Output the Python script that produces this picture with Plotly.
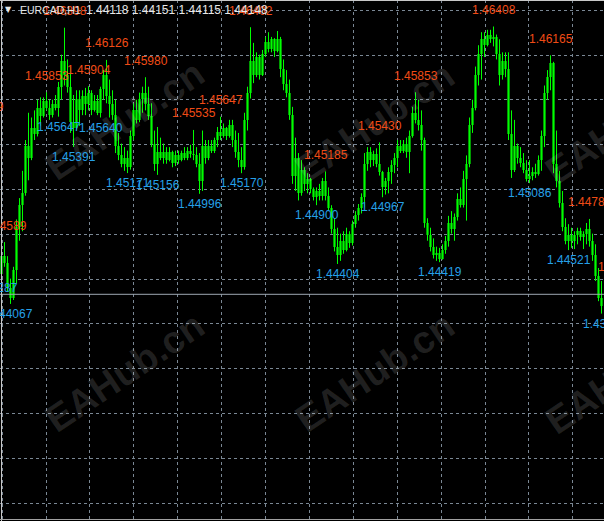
import plotly.graph_objects as go

# ---------------- data (EURCAD, H1) ----------------
symbol = "EURCAD,H1"
header_ohlc = [1.44118, 1.44151, 1.44115, 1.44148]
bid_price = 1.44148

opens = [
    1.4432, 1.4447, 1.4441, 1.4420, 1.4412, 1.4435, 1.4472, 1.4490, 1.4500, 1.4540,
    1.4530, 1.4555, 1.4550, 1.4572, 1.4565, 1.4578, 1.4572, 1.4566, 1.4575, 1.4572,
    1.4590, 1.4612, 1.4600, 1.4590, 1.4560, 1.4555, 1.4580, 1.4570, 1.4582, 1.4575,
    1.4585, 1.4570, 1.4578, 1.4568, 1.4588, 1.4600, 1.4582, 1.4575, 1.4566, 1.4540,
    1.4532, 1.4525, 1.4530, 1.4522, 1.4548, 1.4570, 1.4562, 1.4580, 1.4585, 1.4575,
    1.4565, 1.4542, 1.4525, 1.4535, 1.4530, 1.4535, 1.4528, 1.4535, 1.4526, 1.4532,
    1.4528, 1.4534, 1.4530, 1.4536, 1.4533, 1.4532, 1.4525, 1.4510, 1.4540, 1.4530,
    1.4540, 1.4536, 1.4545, 1.4552, 1.4548, 1.4555, 1.4548, 1.4558, 1.4545, 1.4535,
    1.4528, 1.4522, 1.4562, 1.4585, 1.4612, 1.4600, 1.4615, 1.4600, 1.4618, 1.4628,
    1.4622, 1.4630, 1.4620, 1.4630, 1.4605, 1.4592, 1.4585, 1.4566, 1.4515, 1.4530,
    1.4500, 1.4520, 1.4508, 1.4512, 1.4504, 1.4497, 1.4502, 1.4498, 1.4510, 1.4498,
    1.4488, 1.4470, 1.4455, 1.4448, 1.4460, 1.4452, 1.4466, 1.4458, 1.4474, 1.4482,
    1.4488, 1.4497, 1.4525, 1.4535, 1.4528, 1.4533, 1.4525, 1.4518, 1.4505, 1.4510,
    1.4518, 1.4524, 1.4530, 1.4540, 1.4536, 1.4542, 1.4535, 1.4548, 1.4568, 1.4562,
    1.4558, 1.4545, 1.4475, 1.4465, 1.4455, 1.4448, 1.4450, 1.4445, 1.4452, 1.4460,
    1.4475, 1.4470, 1.4480, 1.4495, 1.4490, 1.4512, 1.4525, 1.4558, 1.4572, 1.4600,
    1.4618, 1.4630, 1.4625, 1.4634, 1.4630, 1.4632, 1.4618, 1.4600, 1.4612, 1.4605,
    1.4550, 1.4520, 1.4540, 1.4530, 1.4526, 1.4520, 1.4512, 1.4515, 1.4518, 1.4516,
    1.4528, 1.4548, 1.4585, 1.4598, 1.4610, 1.4525, 1.4510, 1.4492, 1.4472, 1.4460,
    1.4465, 1.4460, 1.4465, 1.4468, 1.4463, 1.4466, 1.4470, 1.4460, 1.4448, 1.4430,
    1.4412,
]
highs = [
    1.4451, 1.44589, 1.4447, 1.4428, 1.4438, 1.4478, 1.4496, 1.4519, 1.4545, 1.4568,
    1.4564, 1.4570, 1.4579, 1.4581, 1.4581, 1.45853, 1.4579, 1.4579, 1.4583, 1.4594,
    1.4617, 1.46398, 1.4613, 1.4607, 1.4583, 1.4587, 1.4587, 1.4587, 1.4589, 1.45904,
    1.4587, 1.4583, 1.4583, 1.4590, 1.4604, 1.46126, 1.4596, 1.4587, 1.4579, 1.4551,
    1.4542, 1.4539, 1.4536, 1.4553, 1.4576, 1.4579, 1.4585, 1.4590, 1.45980, 1.4590,
    1.4576, 1.4553, 1.4556, 1.4547, 1.4542, 1.4539, 1.4539, 1.4536, 1.4536, 1.4536,
    1.4536, 1.4539, 1.4539, 1.4541, 1.45535, 1.4539, 1.4534, 1.4553, 1.4545, 1.4545,
    1.4545, 1.4547, 1.4556, 1.45647, 1.4559, 1.4556, 1.4562, 1.4562, 1.4553, 1.4551,
    1.4539, 1.4568, 1.4590, 1.46402, 1.4627, 1.4619, 1.4617, 1.4621, 1.4632, 1.4636,
    1.4632, 1.4631, 1.4637, 1.4632, 1.4613, 1.4604, 1.4596, 1.4573, 1.4547, 1.4534,
    1.4528, 1.4522, 1.4517, 1.4513, 1.4505, 1.4505, 1.4508, 1.4513, 1.45185, 1.4505,
    1.4490, 1.4479, 1.4471, 1.4466, 1.4468, 1.4471, 1.4468, 1.4477, 1.4485, 1.4491,
    1.4500, 1.4534, 1.4539, 1.4539, 1.4536, 1.4538, 1.45430, 1.4519, 1.4513, 1.4522,
    1.4528, 1.4534, 1.4545, 1.4545, 1.4545, 1.4547, 1.4553, 1.4573, 1.45853, 1.4579,
    1.4570, 1.4547, 1.4479, 1.4471, 1.4462, 1.4455, 1.4454, 1.4457, 1.4464, 1.4481,
    1.4485, 1.4483, 1.4500, 1.4505, 1.4519, 1.4532, 1.4564, 1.4579, 1.4607, 1.4625,
    1.4636, 1.4636, 1.4638, 1.4638, 1.46408, 1.4634, 1.4630, 1.4619, 1.4619, 1.4619,
    1.4570, 1.4562, 1.4542, 1.4539, 1.4534, 1.4528, 1.4528, 1.4522, 1.4525, 1.4532,
    1.4553, 1.4591, 1.4604, 1.46165, 1.4611, 1.4553, 1.4519, 1.4502, 1.4479, 1.4474,
    1.4471, 1.4468, 1.4471, 1.4471, 1.4468, 1.4475, 1.44784, 1.4466, 1.4457, 1.4437,
    1.4426,
]
lows = [
    1.4430, 1.4438, 1.4417, 1.44067, 1.4410, 1.4424, 1.4460, 1.4468, 1.4498, 1.4511,
    1.4528, 1.4545, 1.4548, 1.4557, 1.4564, 1.4570, 1.4562, 1.4564, 1.4570, 1.45647,
    1.4579, 1.4591, 1.4585, 1.4551, 1.45391, 1.4553, 1.4557, 1.4566, 1.4566, 1.4570,
    1.4566, 1.4569, 1.4566, 1.45640, 1.4579, 1.4576, 1.4564, 1.4562, 1.4534, 1.4528,
    1.4522, 1.4519, 1.45171, 1.4520, 1.4545, 1.4559, 1.4560, 1.4568, 1.4570, 1.4562,
    1.4539, 1.4519, 1.45156, 1.4528, 1.4525, 1.4525, 1.4527, 1.4522, 1.4523, 1.4525,
    1.4527, 1.4528, 1.4528, 1.4530, 1.4528, 1.4522, 1.44996, 1.4502, 1.4525, 1.4528,
    1.4534, 1.4534, 1.4539, 1.4545, 1.4547, 1.4545, 1.4547, 1.4539, 1.4530, 1.4522,
    1.45170, 1.4520, 1.4553, 1.4580, 1.4593, 1.4598, 1.4596, 1.4599, 1.4615, 1.4619,
    1.4619, 1.4615, 1.4619, 1.4598, 1.4587, 1.4581, 1.4562, 1.4508, 1.4502, 1.4494,
    1.4498, 1.4502, 1.4500, 1.4500, 1.4494, 1.44900, 1.4494, 1.4494, 1.4494, 1.4485,
    1.4466, 1.4451, 1.44404, 1.4443, 1.4449, 1.4451, 1.4454, 1.4456, 1.4471, 1.4477,
    1.4483, 1.4488, 1.4519, 1.4522, 1.4523, 1.4522, 1.4515, 1.44967, 1.4499, 1.4500,
    1.4508, 1.4517, 1.4522, 1.4534, 1.4534, 1.4530, 1.4517, 1.4547, 1.4559, 1.4553,
    1.4536, 1.4471, 1.4460, 1.4451, 1.4445, 1.4443, 1.44419, 1.4444, 1.4449, 1.4455,
    1.4466, 1.4460, 1.4477, 1.4488, 1.4488, 1.4477, 1.4522, 1.4551, 1.4570, 1.4591,
    1.4596, 1.4615, 1.4624, 1.4627, 1.4624, 1.4613, 1.4591, 1.4596, 1.4598, 1.4545,
    1.4513, 1.4518, 1.4525, 1.4522, 1.4517, 1.4510, 1.45086, 1.4511, 1.4513, 1.4515,
    1.4519, 1.4539, 1.4579, 1.4587, 1.4517, 1.4505, 1.4488, 1.4468, 1.4457, 1.44521,
    1.4454, 1.4453, 1.4457, 1.4460, 1.4453, 1.4457, 1.4455, 1.4443, 1.4426, 1.4409,
    1.43985,
]
closes = [
    1.4447, 1.4441, 1.4420, 1.4412, 1.4435, 1.4472, 1.4490, 1.4500, 1.4540, 1.4530,
    1.4555, 1.4550, 1.4572, 1.4565, 1.4578, 1.4572, 1.4566, 1.4575, 1.4572, 1.4590,
    1.4612, 1.4600, 1.4590, 1.4560, 1.4555, 1.4580, 1.4570, 1.4582, 1.4575, 1.4585,
    1.4570, 1.4578, 1.4568, 1.4588, 1.4600, 1.4582, 1.4575, 1.4566, 1.4540, 1.4532,
    1.4525, 1.4530, 1.4522, 1.4548, 1.4570, 1.4562, 1.4580, 1.4585, 1.4575, 1.4565,
    1.4542, 1.4525, 1.4535, 1.4530, 1.4535, 1.4528, 1.4535, 1.4526, 1.4532, 1.4528,
    1.4534, 1.4530, 1.4536, 1.4533, 1.4532, 1.4525, 1.4510, 1.4540, 1.4530, 1.4540,
    1.4536, 1.4545, 1.4552, 1.4548, 1.4555, 1.4548, 1.4558, 1.4545, 1.4535, 1.4528,
    1.4522, 1.4562, 1.4585, 1.4612, 1.4600, 1.4615, 1.4600, 1.4618, 1.4628, 1.4622,
    1.4630, 1.4620, 1.4630, 1.4605, 1.4592, 1.4585, 1.4566, 1.4515, 1.4530, 1.4500,
    1.4520, 1.4508, 1.4512, 1.4504, 1.4497, 1.4502, 1.4498, 1.4510, 1.4498, 1.4488,
    1.4470, 1.4455, 1.4448, 1.4460, 1.4452, 1.4466, 1.4458, 1.4474, 1.4482, 1.4488,
    1.4497, 1.4525, 1.4535, 1.4528, 1.4533, 1.4525, 1.4518, 1.4505, 1.4510, 1.4518,
    1.4524, 1.4530, 1.4540, 1.4536, 1.4542, 1.4535, 1.4548, 1.4568, 1.4562, 1.4558,
    1.4545, 1.4475, 1.4465, 1.4455, 1.4448, 1.4450, 1.4445, 1.4452, 1.4460, 1.4475,
    1.4470, 1.4480, 1.4495, 1.4490, 1.4512, 1.4525, 1.4558, 1.4572, 1.4600, 1.4618,
    1.4630, 1.4625, 1.4634, 1.4630, 1.4632, 1.4618, 1.4600, 1.4612, 1.4605, 1.4550,
    1.4520, 1.4540, 1.4530, 1.4526, 1.4520, 1.4512, 1.4515, 1.4518, 1.4516, 1.4528,
    1.4548, 1.4585, 1.4598, 1.4610, 1.4525, 1.4510, 1.4492, 1.4472, 1.4460, 1.4465,
    1.4460, 1.4465, 1.4468, 1.4463, 1.4466, 1.4470, 1.4460, 1.4448, 1.4430, 1.4412,
    1.4405,
]

# swing-point labels (bar index, price)
high_labels = [(1, 1.44589), (15, 1.45853), (21, 1.46398), (29, 1.45904), (35, 1.46126),
               (48, 1.45980), (64, 1.45535), (73, 1.45647), (83, 1.46402), (108, 1.45185),
               (126, 1.45430), (138, 1.45853), (164, 1.46408), (183, 1.46165), (196, 1.44784)]
low_labels = [(3, 1.44067), (19, 1.45647), (24, 1.45391), (33, 1.45640), (42, 1.45171),
              (52, 1.45156), (66, 1.44996), (80, 1.45170), (105, 1.44900), (112, 1.44404),
              (127, 1.44967), (146, 1.44419), (176, 1.45086), (189, 1.44521), (200, 1.43985)]
# labels of bars just outside the visible window
edge_high_labels = [(0, 1.45589), (200, 1.44239)]
edge_low_labels = [(0, 1.44287)]

n = len(closes)
assert len(opens) == n and len(highs) == n and len(lows) == n, (len(opens), len(highs), len(lows), n)
idx = list(range(n))

# ---------------- layout constants ----------------
W, H = 604, 521
PX_PER_BAR = 3.0
PX_PER_PRICE = 11850.0
Y_TOP = 1.466316
BG = "#000000"
GRID = "#7a8794"
LIME = "#00FF00"
BODY = "#009A00"
ORANGE = "#F04C16"
BLUE = "#25A0E8"
FONT = "Liberation Sans"

fig = go.Figure()

# wicks (high-low) as lime lines
wx, wy = [], []
for i in idx:
    wx += [i, i, None]
    wy += [lows[i], highs[i], None]
fig.add_trace(go.Scatter(x=wx, y=wy, mode="lines", line=dict(color=LIME, width=1),
                         hoverinfo="skip", showlegend=False))

# bodies (open-close) as dark green bars
fig.add_trace(go.Bar(x=idx, base=opens, y=[c - o for o, c in zip(opens, closes)],
                     width=0.75, marker=dict(color=BODY, line=dict(width=0)),
                     hoverinfo="skip", showlegend=False))

annotations = []
# watermarks (first, so the labels sit above them)
for cx, cy in [(125, 120), (375, 122), (625, 124), (125, 372), (375, 372), (625, 374)]:
    annotations.append(dict(xref="paper", yref="paper", x=cx / W, y=1 - cy / H,
                            text="<b>EAHub.cn</b>", showarrow=False, textangle=-34,
                            xanchor="center", yanchor="middle",
                            font=dict(family=FONT, size=38, color="rgba(255,255,255,0.13)")))

for i, p in high_labels:
    annotations.append(dict(x=i, y=p, text=f"{p:.5f}", showarrow=False, yshift=16.5,
                            xanchor="center", yanchor="middle",
                            font=dict(family=FONT, size=12, color=ORANGE)))
for i, p in low_labels:
    xs = 3 if i == n - 1 else 0
    annotations.append(dict(x=i, y=p, text=f"{p:.5f}", showarrow=False, yshift=-10, xshift=xs,
                            xanchor="center", yanchor="middle",
                            font=dict(family=FONT, size=12, color=BLUE)))
for i, p in edge_high_labels:
    xs = -19.5 if i == 0 else 18.5
    annotations.append(dict(x=i, y=p, text=f"{p:.5f}", showarrow=False, yshift=16.5, xshift=xs,
                            xanchor="center", yanchor="middle",
                            font=dict(family=FONT, size=12, color=ORANGE)))
for i, p in edge_low_labels:
    annotations.append(dict(x=i, y=p, text=f"{p:.5f}", showarrow=False, yshift=-10, xshift=-5.5,
                            xanchor="center", yanchor="middle",
                            font=dict(family=FONT, size=12, color=BLUE)))

# header
annotations.append(dict(xref="paper", yref="paper", x=8.5 / W, y=1 - 9.5 / H, text="▼",
                        showarrow=False, xanchor="center", yanchor="middle",
                        font=dict(family="DejaVu Sans", size=8, color="#E8E8E8")))
annotations.append(dict(xref="paper", yref="paper", x=18 / W, y=1 - 10 / H, text=symbol,
                        showarrow=False, xanchor="left", yanchor="middle",
                        font=dict(family=FONT, size=10.5, color="#E8E8E8")))
annotations.append(dict(xref="paper", yref="paper", x=84 / W, y=1 - 10 / H,
                        text=" ".join(f"{v:.5f}" for v in header_ohlc),
                        showarrow=False, xanchor="left", yanchor="middle",
                        font=dict(family=FONT, size=12, color="#E8E8E8")))

shapes = [
    dict(type="line", xref="paper", yref="y", x0=0, x1=1, y0=bid_price, y1=bid_price,
         line=dict(color="#9ea8b2", width=1)),
    dict(type="line", xref="paper", yref="paper", x0=1.5 / W, x1=1.5 / W, y0=0, y1=1,
         line=dict(color="#c8c8c8", width=1)),
    dict(type="line", xref="paper", yref="paper", x0=0, x1=1, y0=1 - 0.5 / H, y1=1 - 0.5 / H,
         line=dict(color="#c8c8c8", width=1)),
    dict(type="line", xref="paper", yref="paper", x0=0, x1=1, y0=1 - 519.5 / H, y1=1 - 519.5 / H,
         line=dict(color="#a0a0a0", width=1)),
]

fig.update_layout(
    width=W, height=H,
    margin=dict(l=0, r=0, t=0, b=0, pad=0),
    paper_bgcolor=BG, plot_bgcolor=BG,
    showlegend=False, bargap=0,
    annotations=annotations, shapes=shapes,
    xaxis=dict(range=[-0.5, -0.5 + W / PX_PER_BAR], showticklabels=False, zeroline=False,
               showline=False, showgrid=True, gridcolor=GRID, griddash="3px,3px", gridwidth=1,
               tickmode="linear", tick0=46 / PX_PER_BAR - 0.5, dtick=43.9 / PX_PER_BAR,
               fixedrange=True, rangeslider=dict(visible=False)),
    yaxis=dict(range=[Y_TOP - H / PX_PER_PRICE, Y_TOP], showticklabels=False, zeroline=False,
               showline=False, showgrid=True, gridcolor=GRID, griddash="3px,3px", gridwidth=1,
               tickmode="linear", tick0=Y_TOP - 10.2 / PX_PER_PRICE, dtick=44.8 / PX_PER_PRICE,
               fixedrange=True),
)

fig.write_html(
    "out.html",
    config={"displayModeBar": False, "staticPlot": True},
    post_script="document.body.style.margin='0';document.body.style.background='#000';"
                "document.body.style.overflow='hidden';",
)
